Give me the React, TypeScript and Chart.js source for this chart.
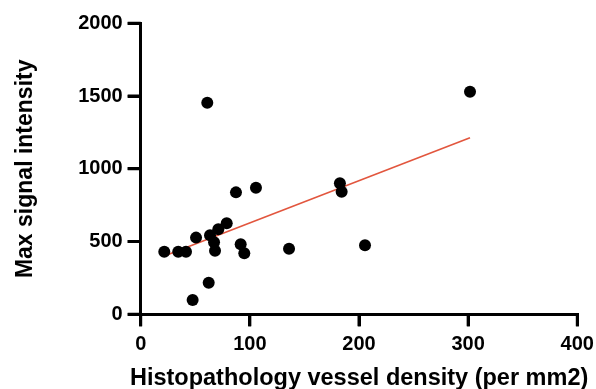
import React, { useEffect, useRef } from "react";
import { Chart, registerables } from "chart.js";

Chart.register(...registerables);

// Scatter data
const vesselDensity = [21.6, 34.4, 41.5, 47.6, 50.7, 61, 62.3, 63.5, 67.2, 68.1, 71.1, 78.8, 87.3, 91.6, 94.9, 105.6, 135.9, 182.5, 184.1, 205.5, 301.7];
const maxSignal = [430, 430, 430, 98, 527, 1454, 217, 543, 495, 437, 584, 625, 838, 481, 419, 870, 451, 900, 843, 474, 1530];

// Regression line endpoints
const fitX = [21.6, 301.7];
const fitY = [400, 1214];

const xTicks = [0, 100, 200, 300, 400];
const yTicks = [0, 500, 1000, 1500, 2000];

const xTitle = "Histopathology vessel density (per mm2)";
const yTitle = "Max signal intensity";

const FONT = "'Liberation Sans', Arial, Helvetica, sans-serif";
const AXIS_W = 3;

// Outward tick marks at each axis tick, placed through the chart's own scales
const tickMarks = {
  id: "tickMarks",
  afterDraw(chart: any) {
    const ctx = chart.ctx;
    const area = chart.chartArea;
    const xs = chart.scales.x;
    const ys = chart.scales.y;
    ctx.save();
    ctx.strokeStyle = "#000";
    ctx.lineWidth = AXIS_W;
    ctx.lineCap = "butt";
    ctx.beginPath();
    xs.ticks.forEach((t: any) => {
      const px = xs.getPixelForValue(t.value);
      ctx.moveTo(px, area.bottom);
      ctx.lineTo(px, area.bottom + 12);
    });
    ys.ticks.forEach((t: any) => {
      const py = ys.getPixelForValue(t.value);
      ctx.moveTo(area.left, py);
      ctx.lineTo(area.left - 13, py);
    });
    ctx.stroke();
    ctx.restore();
  },
};

export default function App() {
  const ref = useRef<HTMLCanvasElement | null>(null);

  useEffect(() => {
    document.body.style.margin = "0";
    const canvas = ref.current;
    if (!canvas) return;
    const points = vesselDensity.map((x, i) => ({ x, y: maxSignal[i] }));
    const fit = fitX.map((x, i) => ({ x, y: fitY[i] }));
    const chart = new Chart(canvas, {
      type: "scatter",
      data: {
        datasets: [
          {
            type: "scatter",
            data: points,
            backgroundColor: "#000000",
            borderWidth: 0,
            pointRadius: 6,
            pointHoverRadius: 6,
            order: 0,
            clip: false as any,
          },
          {
            type: "line",
            data: fit,
            borderColor: "rgb(226,86,62)",
            borderWidth: 1.6,
            pointRadius: 0,
            fill: false,
            order: 1,
          } as any,
        ],
      },
      plugins: [tickMarks],
      options: {
        animation: false,
        responsive: true,
        maintainAspectRatio: false,
        layout: { padding: { top: 23.3, right: 7.7, left: 0, bottom: 0 } },
        plugins: {
          legend: { display: false },
          tooltip: { enabled: false },
          title: {
            display: true,
            position: "bottom",
            align: "end",
            text: xTitle,
            color: "#000",
            font: { family: FONT, size: 23.5, weight: "bold", lineHeight: 0.8 },
            padding: { top: 0, bottom: 1.3 },
          },
        },
        scales: {
          x: {
            type: "linear",
            min: 0,
            max: 400,
            afterBuildTicks: (s: any) => {
              s.ticks = xTicks.map((v) => ({ value: v }));
            },
            afterFit: (s: any) => {
              s.height = 54.6;
              s.paddingLeft = 0;
              s.paddingRight = 18.7;
            },
            grid: {
              drawOnChartArea: false,
              drawTicks: true,
              tickLength: 12,
              color: "#000",
              lineWidth: AXIS_W,
            },
            border: { display: true, color: "#000", width: AXIS_W },
            ticks: {
              color: "#000",
              padding: 6,
              font: { family: FONT, size: 20, weight: "bold" },
              maxRotation: 0,
              callback: (v: any) => String(v),
            },
          },
          y: {
            type: "linear",
            min: 0,
            max: 2000,
            afterBuildTicks: (s: any) => {
              s.ticks = yTicks.map((v) => ({ value: v }));
            },
            afterFit: (s: any) => {
              s.width = 140.7;
            },
            grid: {
              drawOnChartArea: false,
              drawTicks: true,
              tickLength: 13,
              color: "#000",
              lineWidth: AXIS_W,
            },
            border: { display: true, color: "#000", width: AXIS_W },
            ticks: {
              color: "#000",
              padding: 5,
              font: { family: FONT, size: 20, weight: "bold" },
              callback: (v: any) => String(v),
            },
            title: {
              display: true,
              text: yTitle,
              color: "#000",
              font: { family: FONT, size: 23, weight: "bold" },
              padding: { top: 12, bottom: 0 },
            },
          },
        },
      },
    });
    return () => chart.destroy();
  }, []);

  return (
    <div style={{ position: "relative", width: 596, height: 389 }}>
      <canvas ref={ref} />
    </div>
  );
}
